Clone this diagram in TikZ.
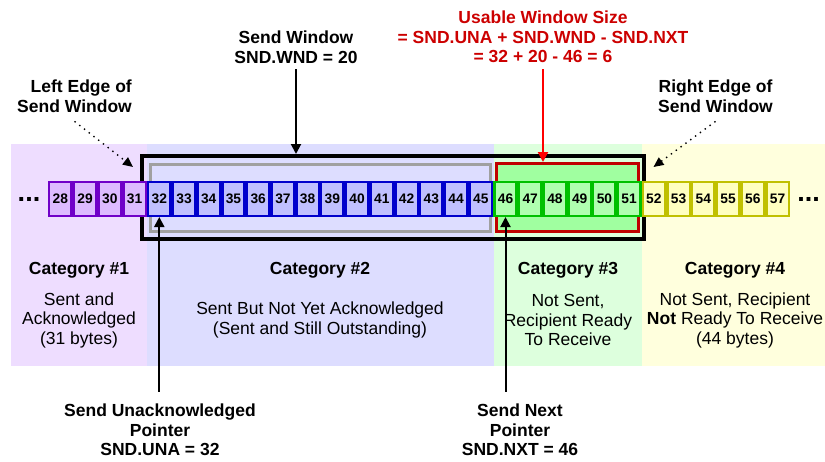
\documentclass[tikz,border=0pt]{standalone}
\usepackage{fontspec}
\setmainfont{Liberation Sans}
\usetikzlibrary{arrows.meta,calc}

% category backgrounds
\definecolor{bgone}{HTML}{EEDDFF}
\definecolor{bgtwo}{HTML}{DDDDFF}
\definecolor{bgthree}{HTML}{DDFFDD}
\definecolor{bgfour}{HTML}{FFFFDD}
% byte cells
\definecolor{edgeone}{HTML}{7000C8}
\definecolor{fillone}{HTML}{DDBBFF}
\definecolor{edgetwo}{HTML}{0000CC}
\definecolor{filltwo}{HTML}{C0C0FF}
\definecolor{edgethree}{HTML}{00C000}
\definecolor{fillthree}{HTML}{B0FFB0}
\definecolor{edgefour}{HTML}{C0C000}
\definecolor{fillfour}{HTML}{FFFFC0}
% window frames
\definecolor{usablefill}{HTML}{A0FFA0}
\definecolor{usableedge}{HTML}{C00000}
\definecolor{formula}{HTML}{CC0000}
\definecolor{graywin}{HTML}{A0A0A0}

\begin{document}
\begin{tikzpicture}[x=1pt,y=-1pt,
  lbl/.style={font=\fontsize{17.5}{19.5}\selectfont\bfseries, align=center, inner sep=0pt},
  body/.style={font=\fontsize{17.5}{19.5}\selectfont, align=center, inner sep=0pt},
  cell/.style={draw, line width=2.4pt, minimum width=22.33pt, minimum height=33.6pt,
               inner sep=0pt, font=\fontsize{13.8}{14}\selectfont\bfseries},
  ptr/.style={line width=2pt, -{Triangle[length=10pt,width=10pt]}},
  edgeptr/.style={line width=1.4pt, dash pattern=on 1.4pt off 4.6pt,
                  -{Triangle[length=10pt,width=9pt]}},
  dotsnode/.style={font=\fontsize{27}{27}\selectfont\bfseries, inner sep=0pt}]

\useasboundingbox (0,0) rectangle (825,461);

% category bands
\fill[bgone]   (11,144)  rectangle (147,366);
\fill[bgtwo]   (147,144) rectangle (494,366);
\fill[bgthree] (494,144) rectangle (642,366);
\fill[bgfour]  (642,144) rectangle (825,366);

% send window and its two parts
\node[draw=black, line width=4pt, minimum width=501.5pt, minimum height=83pt, inner sep=0pt]
  (win) at (392.75,197.5) {};
\node[draw=graywin, line width=3pt, minimum width=340.5pt, minimum height=66.5pt, inner sep=0pt]
  (sent) at (320.25,197.75) {};
\node[draw=usableedge, fill=usablefill, line width=3pt, minimum width=141.5pt,
      minimum height=67.5pt, inner sep=0pt]
  (usable) at (567.25,197.25) {};

% byte cells
\foreach \n in {28,...,31}
  \node[cell, draw=edgeone, fill=fillone] (c\n) at ({48+24.73*(\n-27.5)},199) {\n};
\foreach \n in {32,...,45}
  \node[cell, draw=edgetwo, fill=filltwo] (c\n) at ({48+24.73*(\n-27.5)},199) {\n};
\foreach \n in {46,...,51}
  \node[cell, draw=edgethree, fill=fillthree] (c\n) at ({48+24.73*(\n-27.5)},199) {\n};
\foreach \n in {52,...,57}
  \node[cell, draw=edgefour, fill=fillfour] (c\n) at ({48+24.73*(\n-27.5)},199) {\n};

\node[dotsnode] (ldots) at (29,199) {...};
\node[dotsnode] (rdots) at (808.5,199) {...};

% labels above
\node[lbl] (sw) at (296,47) {Send Window\\SND.WND = 20};
\node[lbl, text=formula] (uws) at (543,37)
  {Usable Window Size\\= SND.UNA + SND.WND - SND.NXT\\= 32 + 20 - 46 = 6};
\node[lbl, align=right, anchor=east] (le) at (132,96) {Left Edge of\\Send Window};
\node[lbl] (re) at (715.5,96) {Right Edge of\\Send Window};

% labels below
\node[lbl] (una) at (160,430) {Send Unacknowledged\\Pointer\\SND.UNA = 32};
\node[lbl] (nxt) at (520,430) {Send Next\\Pointer\\SND.NXT = 46};

% category descriptions
\node[lbl] (k1) at (79,270) {Category \#1};
\node[lbl] (k2) at (320,270) {Category \#2};
\node[lbl] (k3) at (568,270) {Category \#3};
\node[lbl] (k4) at (735,270) {Category \#4};
\node[body] (d1) at (79,320) {Sent and\\Acknowledged\\(31 bytes)};
\node[body] (d2) at (320,320) {Sent But Not Yet Acknowledged\\(Sent and Still Outstanding)};
\node[body] (d3) at (568,320) {Not Sent,\\Recipient Ready\\To Receive};
\node[body] (d4) at (735,320) {Not Sent, Recipient\\\textbf{Not} Ready To Receive\\(44 bytes)};

% pointers
\draw[ptr] ($(sw.south)+(0,6)$) -- (sw.south |- win.north);
\draw[ptr, red] ($(uws.south)+(0,6)$) -- (uws.south |- usable.north);
\draw[edgeptr] ($(le.south)+(0,9)$) -- ([xshift=-7pt,yshift=-13pt]win.north west);
\draw[edgeptr] ($(re.south)+(0,9)$) -- ([xshift=8pt,yshift=-13pt]win.north east);
\draw[ptr] ($(c32.south |- una.north)+(0,-12)$) -- (c32.south);
\draw[ptr] ($(c46.south |- nxt.north)+(0,-12)$) -- (c46.south);

\end{tikzpicture}
\end{document}
